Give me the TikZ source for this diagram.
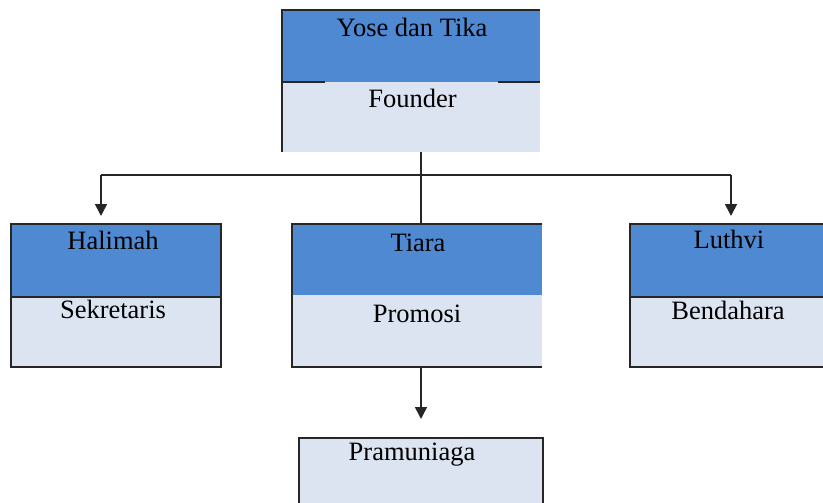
\documentclass[tikz,border=0pt]{standalone}
\usepackage{fontspec}
\setmainfont{Liberation Serif}
\usetikzlibrary{arrows.meta}
\definecolor{headblue}{HTML}{4F89D2}
\definecolor{bodyblue}{HTML}{DCE3F1}
\definecolor{edge}{HTML}{262626}
\tikzset{
  part/.style={rectangle, inner sep=0pt, outer sep=0pt, draw=none},
  head/.style={part, fill=headblue},
  body/.style={part, fill=bodyblue},
  lbl/.style={inner sep=0pt, anchor=base, font=\fontsize{26.5}{30}\selectfont, text=black},
  rim/.style={draw=edge, line width=1.3pt},
  link/.style={draw=edge, line width=1.6pt},
  arr/.style={link, -{Triangle[width=12pt,length=12pt]}}
}
\begin{document}
\begin{tikzpicture}[x=1pt,y=-1pt]
\useasboundingbox (0,0) rectangle (823,503);
% top box
\node[head, minimum width=258pt, minimum height=72pt] (yA) at (411,46) {};
\node[body, minimum width=258pt, minimum height=70pt] (yB) at (411,117) {};
\node[lbl] (yT) at (412,37) {Yose dan Tika};
\node[lbl] (yF) at (412.5,107) {Founder};
\draw[rim] (yB.south west) -- (yA.north west) -- (yA.north east);
\draw[rim] (yA.south west) -- ++(43,0);
\draw[rim] (yA.south east) -- ++(-42,0);
% left box
\node[head, minimum width=210pt, minimum height=73pt] (hA) at (116,260.5) {};
\node[body, minimum width=210pt, minimum height=70pt] (hB) at (116,332) {};
\node[lbl] (hT) at (113,249) {Halimah};
\node[lbl] (hS) at (113,318) {Sekretaris};
\draw[rim] (hA.north west) rectangle (hB.south east);
\draw[rim] (hA.south west) -- (hA.south east);
% middle box
\node[head, minimum width=250pt, minimum height=71pt] (tA) at (417,259.5) {};
\node[body, minimum width=250pt, minimum height=72pt] (tB) at (417,331) {};
\node[lbl] (tT) at (418,251) {Tiara};
\node[lbl] (tP) at (417,322) {Promosi};
\draw[rim] (tA.north east) -- (tA.north west) -- (tB.south west) -- (tB.south east);
% right box
\node[head, minimum width=200pt, minimum height=73pt] (lA) at (730,260.5) {};
\node[body, minimum width=200pt, minimum height=70pt] (lB) at (730,332) {};
\node[lbl] (lT) at (729,248) {Luthvi};
\node[lbl] (lD) at (728,319) {Bendahara};
\draw[rim] (lA.north east) -- (lA.north west) -- (lB.south west) -- (lB.south east);
\draw[rim] (lA.south west) -- (lA.south east);
% bottom box
\node[body, minimum width=244pt, minimum height=80pt] (pB) at (421,478) {};
\node[lbl] (pT) at (412,460) {Pramuniaga};
\draw[rim] (pB.south west) -- (pB.north west) -- (pB.north east) -- (pB.south east);
% connectors
\coordinate (j0) at (421,175);
\coordinate (jL) at (101,175);
\coordinate (jR) at (731,175);
\coordinate (hTip) at (101,216);
\coordinate (lTip) at (731,216);
\coordinate (pTip) at (421,419);
\draw[link] (yB.south -| j0) -- (j0) -- (tA.north -| j0);
\draw[link] (jL) -- (jR);
\draw[arr] (jL) -- (hTip);
\draw[arr] (jR) -- (lTip);
\draw[arr] (tB.south -| j0) -- (pTip);
\end{tikzpicture}
\end{document}
